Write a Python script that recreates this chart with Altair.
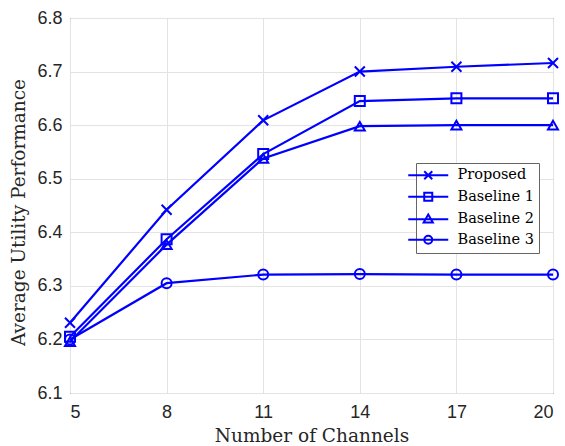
import altair as alt
import pandas as pd

channels = [5, 8, 11, 14, 17, 20]
proposed = [6.231, 6.442, 6.609, 6.700, 6.709, 6.716]
baseline1 = [6.205, 6.387, 6.546, 6.645, 6.650, 6.650]
baseline2 = [6.196, 6.377, 6.538, 6.598, 6.600, 6.600]
baseline3 = [6.200, 6.305, 6.321, 6.322, 6.321, 6.321]
series_names = ["Proposed", "Baseline 1", "Baseline 2", "Baseline 3"]
x_ticks = [5, 8, 11, 14, 17, 20]
y_ticks = [6.1, 6.2, 6.3, 6.4, 6.5, 6.6, 6.7, 6.8]

rows = []
for name, vals in zip(series_names, [proposed, baseline1, baseline2, baseline3]):
    for c, v in zip(channels, vals):
        rows.append({"channels": c, "value": v, "series": name})
df = pd.DataFrame(rows)

BLUE = "#0000ff"
point_shapes = ["M-1,-1L1,1M-1,1L1,-1", "square", "triangle-up", "circle"]
legend_shapes = [
    "M-5,0H5M-1,-1L1,1M-1,1L1,-1",
    "M-5,0H5M-1,-1H1V1H-1Z",
    "M-5,0H5M0,-1.2L1.15,0.8H-1.15Z",
    "M-5,0H5M1,0A1,1,0,1,1,-1,0A1,1,0,1,1,1,0",
]

x_enc = alt.X("channels:Q", scale=alt.Scale(domain=[5, 20], nice=False),
              axis=alt.Axis(values=x_ticks, title="Number of Channels", format="d"))
y_enc = alt.Y("value:Q", scale=alt.Scale(domain=[6.1, 6.8], nice=False, zero=False),
              axis=alt.Axis(values=y_ticks, title="Average Utility Performance", format=".1f",
                            titleY=194))

base = alt.Chart(df).encode(x=x_enc, y=y_enc)

lines = base.mark_line(color=BLUE, strokeWidth=2.2).encode(
    detail="series:N"
)

points = base.mark_point(color=BLUE, filled=False, strokeWidth=2, size=100, opacity=1).encode(
    shape=alt.Shape("series:N", scale=alt.Scale(domain=series_names, range=point_shapes), legend=None)
)

legend_layer = base.transform_filter("datum.channels < 0").mark_point(
    color=BLUE, filled=False, strokeWidth=2, size=64, opacity=1
).encode(
    shape=alt.Shape(
        "series:N",
        scale=alt.Scale(domain=series_names, range=legend_shapes),
        legend=alt.Legend(
            title=None, orient="none", legendX=346, legendY=145,
            symbolSize=64, symbolStrokeWidth=2, symbolStrokeColor=BLUE,
            symbolFillColor="transparent", labelOffset=22,
            labelFont="DejaVu Serif", labelFontSize=14.5, labelColor="#000000",
            rowPadding=4.5, padding=5, strokeColor="#666666", fillColor="#ffffff",
            offset=0,
        ),
    )
)

chart = alt.layer(lines, points, legend_layer).resolve_scale(shape="independent").properties(
    width=483, height=375,
    autosize=alt.AutoSizeParams(type="none"),
    padding={"left": 70, "top": 18, "right": 12, "bottom": 53},
).configure_view(
    stroke="#262626", strokeWidth=1
).configure_axis(
    domain=False, ticks=False, grid=True, gridColor="#e3e3e3", gridWidth=1,
    labelFont="Liberation Sans", labelFontSize=18, labelColor="#262626",
    labelPadding=8, titleFont="DejaVu Serif", titleFontSize=18.5, titleFontWeight="normal",
    titleColor="#262626",
).configure_axisX(labelPadding=10, titlePadding=5).configure_axisY(titlePadding=8)

chart.save("out.html", embed_options={"renderer": "svg", "actions": False})
